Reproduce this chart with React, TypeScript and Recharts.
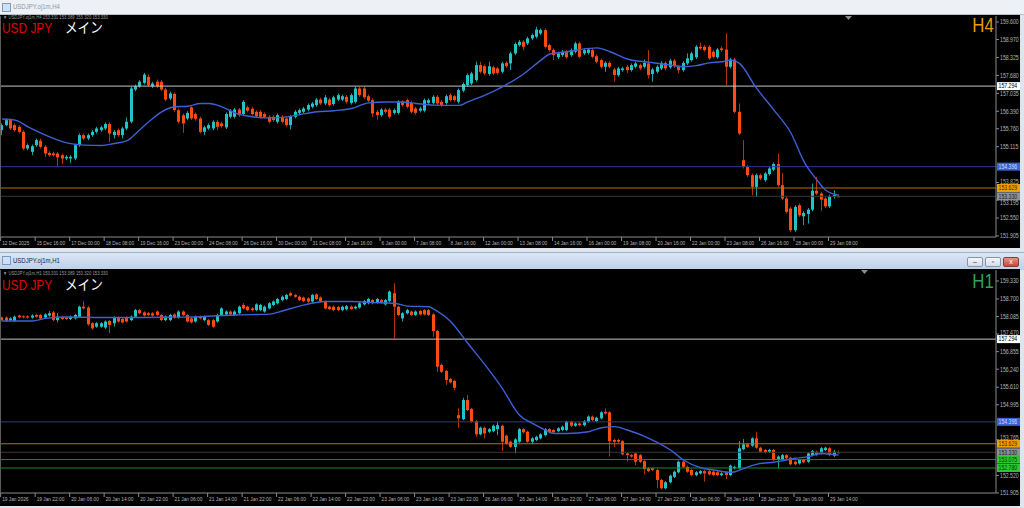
import { Bar, ComposedChart, Line, ReferenceLine, XAxis, YAxis } from "recharts";

// ---- USDJPY H4 (12 Dec 2025 - 29 Jan 2026) ----
const h4Open = [
  155.71, 155.89, 156.07, 155.89, 155.83, 155.65, 155.05, 154.93, 155.17, 155.33,
  155.11, 154.89, 154.87, 154.87, 154.81, 154.69, 154.69, 154.69, 155.17, 155.53,
  155.41, 155.53, 155.65, 155.71, 155.77, 155.93, 155.53, 155.71, 155.53, 155.77,
  156.01, 157.17, 157.29, 157.41, 157.63, 157.29, 157.45, 157.45, 157.17, 156.85,
  157.01, 156.43, 156.25, 156.13, 156.53, 156.29, 156.13, 155.65, 155.77, 155.77,
  156.01, 155.95, 155.81, 156.19, 156.19, 156.45, 156.29, 156.53, 156.48, 156.37,
  156.37, 156.29, 156.19, 156.19, 156.01, 156.19, 156.13, 155.89, 156.19, 156.33,
  156.37, 156.45, 156.55, 156.61, 156.81, 156.67, 156.81, 156.65, 156.81, 156.81,
  156.91, 156.69, 156.73, 157.21, 157.21, 156.93, 156.79, 156.37, 156.25, 156.45,
  156.45, 156.33, 156.33, 156.73, 156.79, 156.69, 156.49, 156.41, 156.41, 156.69,
  156.69, 156.91, 156.73, 156.69, 156.97, 156.93, 156.73, 157.13, 157.33, 157.39,
  157.51, 158.05, 158.01, 157.73, 157.97, 157.93, 157.81, 158.13, 158.11, 158.47,
  158.77, 158.89, 158.83, 159.01, 159.07, 159.19, 159.31, 158.77, 158.59, 158.33,
  158.41, 158.53, 158.41, 158.53, 158.83, 158.47, 158.49, 158.59, 158.37, 158.23,
  157.99, 158.13, 157.89, 157.69, 157.87, 157.99, 157.87, 157.99, 158.05, 157.99,
  158.11, 157.73, 157.81, 157.93, 158.13, 157.97, 158.21, 157.99, 157.87, 158.11,
  158.23, 158.33, 158.71, 158.71, 158.71, 158.53, 158.33, 158.65, 158.61, 157.99,
  158.25, 156.37, 154.63, 154.39, 154.09, 153.67, 154.09, 153.91, 154.13, 154.29,
  154.49, 153.73, 153.25, 152.89, 152.11, 153.01, 152.61, 152.69, 152.85, 153.53,
  153.43, 153.25, 152.97, 153.31, 153.331,
];
const h4High = [
  155.95, 156.13, 156.13, 155.95, 155.89, 155.71, 155.23, 155.19, 155.41, 155.41,
  155.17, 154.95, 154.93, 154.93, 154.87, 154.81, 154.81, 155.23, 155.59, 155.59,
  155.59, 155.71, 155.83, 155.87, 155.99, 155.99, 155.71, 155.77, 155.83, 156.17,
  157.27, 157.35, 157.51, 157.77, 157.71, 157.45, 157.53, 157.51, 157.23, 157.09,
  157.07, 156.49, 156.31, 156.39, 156.57, 156.35, 156.19, 155.87, 155.95, 156.07,
  156.07, 156.01, 156.35, 156.47, 156.51, 156.51, 156.79, 156.59, 156.55, 156.43,
  156.43, 156.35, 156.25, 156.25, 156.31, 156.25, 156.19, 156.25, 156.43, 156.49,
  156.55, 156.67, 156.73, 156.87, 156.87, 156.97, 156.87, 156.95, 157.03, 156.99,
  156.97, 157.03, 157.27, 157.27, 157.27, 156.99, 156.85, 156.43, 156.51, 156.51,
  156.51, 156.49, 156.79, 156.79, 156.85, 156.75, 156.55, 156.55, 156.85, 156.85,
  156.97, 156.97, 156.79, 156.99, 157.03, 156.99, 157.21, 157.43, 157.75, 157.81,
  158.17, 158.17, 158.07, 158.17, 158.03, 157.99, 158.17, 158.19, 158.53, 158.87,
  158.95, 158.95, 159.07, 159.19, 159.43, 159.37, 159.37, 158.83, 158.65, 158.53,
  158.59, 158.59, 158.65, 158.89, 158.89, 158.65, 158.67, 158.65, 158.43, 158.29,
  158.19, 158.19, 157.95, 157.99, 157.99, 158.05, 158.11, 158.17, 158.11, 158.25,
  158.59, 157.95, 158.05, 158.19, 158.19, 158.27, 158.27, 158.05, 158.19, 158.47,
  158.53, 158.77, 158.85, 158.77, 158.77, 158.59, 158.67, 158.73, 159.19, 158.31,
  158.31, 156.67, 155.35, 154.45, 154.15, 154.15, 154.15, 154.21, 154.39, 154.55,
  154.87, 154.17, 153.31, 152.95, 153.01, 153.07, 152.79, 152.91, 153.79, 154.03,
  153.49, 153.31, 153.39, 153.55, 153.389,
];
const h4Low = [
  155.53, 155.85, 155.71, 155.65, 155.59, 154.99, 154.99, 154.81, 155.11, 155.05,
  154.75, 154.75, 154.75, 154.43, 154.49, 154.63, 154.53, 154.63, 155.11, 155.35,
  155.35, 155.47, 155.59, 155.65, 155.71, 155.29, 155.41, 155.47, 155.41, 155.71,
  155.95, 157.11, 157.23, 157.35, 157.27, 157.23, 157.23, 157.11, 156.75, 156.79,
  156.37, 155.95, 155.61, 156.07, 156.07, 156.05, 155.59, 155.53, 155.71, 155.71,
  155.71, 155.79, 155.75, 156.13, 156.13, 156.19, 156.23, 156.35, 156.23, 156.15,
  156.13, 156.13, 155.95, 156.01, 155.95, 155.95, 155.83, 155.73, 156.13, 156.27,
  156.31, 156.39, 156.49, 156.55, 156.61, 156.61, 156.55, 156.59, 156.75, 156.75,
  156.67, 156.63, 156.67, 156.91, 156.83, 156.71, 156.19, 156.09, 156.19, 156.31,
  156.13, 156.27, 156.27, 156.55, 156.49, 156.31, 156.27, 156.35, 156.35, 156.63,
  156.63, 156.61, 156.55, 156.63, 156.73, 156.73, 156.67, 157.07, 157.27, 157.33,
  157.45, 157.75, 157.69, 157.67, 157.69, 157.71, 157.75, 157.95, 157.87, 158.41,
  158.71, 158.59, 158.77, 158.95, 159.01, 159.13, 158.65, 158.53, 158.23, 158.27,
  158.35, 158.27, 158.35, 158.47, 158.29, 158.41, 158.43, 158.29, 158.11, 157.93,
  157.81, 157.93, 157.45, 157.63, 157.81, 157.77, 157.81, 157.93, 157.87, 157.93,
  157.57, 157.45, 157.75, 157.87, 157.87, 157.91, 157.95, 157.75, 157.81, 158.05,
  158.17, 158.27, 158.59, 158.53, 158.23, 158.29, 158.27, 158.53, 157.33, 157.93,
  156.31, 155.53, 154.33, 154.03, 153.37, 153.31, 153.91, 153.85, 154.07, 154.23,
  153.67, 153.19, 152.71, 152.05, 152.05, 152.59, 152.29, 152.35, 152.79, 153.37,
  152.81, 152.91, 152.91, 153.25, 153.32,
];
const h4Close = [
  155.89, 156.07, 155.77, 155.71, 155.65, 155.05, 155.17, 155.13, 155.35, 155.11,
  154.87, 154.81, 154.81, 154.73, 154.69, 154.75, 154.75, 155.17, 155.53, 155.41,
  155.53, 155.65, 155.77, 155.81, 155.93, 155.59, 155.65, 155.53, 155.77, 156.01,
  157.21, 157.29, 157.45, 157.71, 157.33, 157.39, 157.29, 157.17, 156.81, 157.03,
  156.43, 156.01, 155.95, 156.33, 156.13, 156.12, 155.65, 155.81, 155.89, 156.01,
  155.83, 155.85, 156.29, 156.41, 156.45, 156.25, 156.73, 156.41, 156.29, 156.21,
  156.19, 156.19, 156.01, 156.07, 156.25, 156.01, 155.89, 156.19, 156.37, 156.43,
  156.49, 156.61, 156.67, 156.81, 156.67, 156.89, 156.61, 156.89, 156.97, 156.93,
  156.73, 156.97, 157.21, 156.97, 156.89, 156.77, 156.31, 156.25, 156.45, 156.37,
  156.19, 156.43, 156.73, 156.61, 156.55, 156.37, 156.33, 156.49, 156.79, 156.79,
  156.91, 156.67, 156.61, 156.93, 156.79, 156.79, 157.15, 157.37, 157.69, 157.75,
  158.05, 157.81, 157.75, 158.01, 157.75, 157.77, 158.11, 158.01, 158.47, 158.81,
  158.89, 158.71, 159.01, 159.13, 159.33, 159.31, 158.71, 158.59, 158.41, 158.47,
  158.53, 158.33, 158.59, 158.83, 158.35, 158.59, 158.61, 158.35, 158.17, 157.99,
  158.13, 157.99, 157.69, 157.93, 157.93, 157.87, 158.05, 158.11, 157.93, 158.13,
  157.69, 157.89, 157.99, 158.13, 157.93, 158.21, 158.01, 157.87, 158.13, 158.29,
  158.47, 158.71, 158.65, 158.59, 158.29, 158.35, 158.61, 158.59, 157.99, 158.25,
  156.37, 155.59, 154.39, 154.09, 153.67, 154.09, 153.97, 154.15, 154.33, 154.49,
  153.73, 153.25, 152.77, 152.11, 152.95, 152.65, 152.73, 152.85, 153.53, 153.43,
  153.21, 152.97, 153.33, 153.37, 153.33,
];
// moving average: bar index -> value
const h4MaIdx = [0, 3, 6, 11, 15, 19, 23, 26, 29, 31, 34, 37, 40, 43, 46, 48, 51, 54, 58, 62, 65, 69, 73, 77, 81, 85, 89, 93, 96, 100, 106, 108, 112, 116, 120, 125, 127, 131, 134, 138, 141, 145, 150, 155, 158, 161, 164, 167, 169, 171, 175, 179, 183, 186, 189, 191, 194];
const h4MaVal = [156.11, 156.07, 155.83, 155.47, 155.25, 155.17, 155.16, 155.23, 155.33, 155.59, 156.01, 156.37, 156.55, 156.57, 156.67, 156.67, 156.55, 156.33, 156.19, 156.15, 156.17, 156.27, 156.37, 156.41, 156.49, 156.69, 156.72, 156.72, 156.67, 156.61, 156.6, 156.73, 156.97, 157.27, 157.63, 158.23, 158.45, 158.53, 158.61, 158.67, 158.53, 158.27, 158.15, 158.05, 157.99, 158.03, 158.13, 158.17, 158.23, 158.11, 157.21, 156.43, 155.59, 154.57, 153.91, 153.55, 153.37];
const h4Times = ["12 Dec 2025", "15 Dec 16:00", "17 Dec 00:00", "18 Dec 08:00", "19 Dec 16:00", "23 Dec 00:00", "24 Dec 08:00", "26 Dec 16:00", "30 Dec 00:00", "31 Dec 08:00", "2 Jan 16:00", "6 Jan 00:00", "7 Jan 08:00", "8 Jan 16:00", "12 Jan 00:00", "13 Jan 08:00", "14 Jan 16:00", "16 Jan 00:00", "19 Jan 08:00", "20 Jan 16:00", "22 Jan 00:00", "23 Jan 08:00", "26 Jan 16:00", "28 Jan 00:00", "29 Jan 08:00"];
const h4PriceTicks = [159.6, 158.97, 158.325, 157.68, 157.035, 156.39, 155.76, 155.115, 153.825, 153.195, 152.55, 151.905];
const h4Levels = [157.294, 154.396, 153.629, 153.33];

// ---- USDJPY H1 (19 Jan 2026 - 29 Jan 2026) ----
const h1Open = [
  158.06, 158.05, 157.96, 157.93, 158.12, 158.09, 158.09, 158.05, 158.14, 158.14,
  158.05, 158.12, 158.23, 157.96, 158.07, 158.05, 158.0, 158.02, 158.08, 158.43,
  158.4, 157.85, 157.73, 157.73, 157.7, 157.93, 157.85, 158.05, 158.0, 158.05,
  157.96, 158.08, 158.31, 158.23, 158.2, 158.2, 158.26, 158.14, 157.96, 157.96,
  158.16, 158.05, 158.26, 158.14, 158.02, 157.91, 158.08, 157.96, 157.96, 157.96,
  157.91, 158.14, 158.16, 158.26, 158.14, 158.2, 158.49, 158.43, 158.37, 158.31,
  158.31, 158.26, 158.37, 158.49, 158.55, 158.66, 158.7, 158.9, 158.84, 158.78,
  158.75, 158.72, 158.61, 158.86, 158.75, 158.61, 158.43, 158.43, 158.42, 158.31,
  158.34, 158.43, 158.37, 158.4, 158.51, 158.55, 158.66, 158.58, 158.66, 158.51,
  158.63, 158.9, 158.43, 158.02, 158.2, 158.26, 158.14, 158.28, 158.31, 158.31,
  158.16, 157.58, 156.39, 156.18, 155.9, 155.83, 154.63, 154.49, 155.16, 154.85,
  154.42, 153.96, 154.19, 154.05, 154.07, 154.14, 154.26, 153.91, 153.7, 153.52,
  153.7, 154.14, 154.05, 153.7, 153.76, 153.82, 153.93, 154.14, 154.11, 154.07,
  154.11, 154.11, 154.4, 154.26, 154.34, 154.28, 154.4, 154.58, 154.42, 154.52,
  154.75, 154.73, 153.76, 153.76, 153.72, 153.29, 153.23, 153.29, 153.23, 153.02,
  152.77, 152.77, 152.71, 152.36, 152.07, 152.28, 152.47, 152.63, 153.0, 152.82,
  152.71, 152.53, 152.59, 152.67, 152.67, 152.65, 152.63, 152.53, 152.63, 152.53,
  152.77, 152.77, 153.44, 153.61, 153.56, 153.82, 153.49, 153.41, 153.35, 153.41,
  153.06, 153.06, 153.23, 153.14, 153.0, 152.94, 153.06, 153.0, 153.23, 153.35,
  153.29, 153.41, 153.47, 153.21, 153.331,
];
const h1High = [
  158.08, 158.09, 158.06, 158.12, 158.15, 158.13, 158.13, 158.16, 158.18, 158.18,
  158.2, 158.28, 158.28, 158.2, 158.11, 158.09, 158.12, 158.18, 158.47, 158.63,
  158.45, 157.89, 157.89, 157.89, 157.95, 157.97, 158.09, 158.09, 158.04, 158.09,
  158.12, 158.35, 158.35, 158.27, 158.24, 158.24, 158.3, 158.18, 158.12, 158.18,
  158.2, 158.3, 158.3, 158.18, 158.06, 158.12, 158.12, 158.12, 158.0, 158.0,
  158.18, 158.41, 158.3, 158.3, 158.3, 158.47, 158.55, 158.47, 158.41, 158.55,
  158.53, 158.47, 158.59, 158.65, 158.74, 158.82, 158.88, 158.96, 158.88, 158.82,
  158.79, 158.76, 158.88, 158.9, 158.79, 158.65, 158.47, 158.47, 158.46, 158.47,
  158.49, 158.47, 158.47, 158.59, 158.67, 158.74, 158.7, 158.74, 158.7, 158.7,
  159.0, 159.25, 158.47, 158.24, 158.35, 158.3, 158.3, 158.32, 158.35, 158.35,
  158.2, 157.62, 156.43, 156.22, 155.94, 155.87, 154.87, 155.24, 155.34, 154.89,
  154.46, 154.23, 154.23, 154.18, 154.3, 154.4, 154.3, 153.95, 153.74, 153.82,
  154.18, 154.18, 154.09, 153.86, 153.91, 154.0, 154.18, 154.18, 154.15, 154.21,
  154.27, 154.44, 154.44, 154.38, 154.38, 154.46, 154.62, 154.62, 154.58, 154.77,
  154.87, 154.77, 153.8, 153.8, 153.76, 153.33, 153.27, 153.33, 153.27, 153.06,
  152.81, 152.81, 152.75, 152.4, 152.32, 152.55, 152.69, 153.04, 153.04, 152.86,
  152.75, 152.67, 152.71, 152.71, 152.71, 152.69, 152.67, 152.63, 152.67, 152.9,
  152.86, 153.72, 153.79, 153.65, 153.86, 154.05, 153.53, 153.45, 153.45, 153.45,
  153.22, 153.27, 153.27, 153.18, 153.04, 153.1, 153.1, 153.33, 153.41, 153.39,
  153.51, 153.53, 153.51, 153.42, 153.389,
];
const h1Low = [
  157.91, 157.9, 157.92, 157.89, 158.02, 158.02, 158.01, 158.01, 158.04, 157.98,
  158.01, 158.08, 157.92, 157.88, 157.96, 157.96, 157.96, 157.98, 158.04, 158.33,
  157.76, 157.62, 157.69, 157.69, 157.65, 157.5, 157.73, 157.87, 157.84, 157.87,
  157.92, 158.04, 158.16, 158.08, 158.1, 158.08, 158.1, 157.92, 157.92, 157.92,
  158.01, 158.01, 158.1, 157.87, 157.84, 157.87, 157.98, 157.92, 157.75, 157.69,
  157.87, 158.1, 158.12, 158.12, 158.1, 158.16, 158.33, 158.27, 158.27, 158.27,
  158.27, 158.22, 158.33, 158.45, 158.51, 158.62, 158.66, 158.78, 158.74, 158.62,
  158.59, 158.57, 158.57, 158.66, 158.57, 158.33, 158.31, 158.27, 158.27, 158.27,
  158.3, 158.31, 158.33, 158.36, 158.47, 158.51, 158.51, 158.54, 158.54, 158.47,
  158.59, 157.32, 158.1, 157.91, 158.16, 158.1, 158.1, 158.12, 158.12, 158.1,
  157.38, 156.15, 156.1, 155.69, 155.74, 155.51, 154.19, 154.45, 154.77, 154.36,
  153.87, 153.92, 153.82, 154.01, 154.03, 153.93, 153.37, 153.6, 153.48, 153.29,
  153.66, 153.99, 153.66, 153.61, 153.72, 153.78, 153.89, 153.99, 153.99, 154.03,
  154.07, 154.07, 154.22, 154.22, 154.24, 154.24, 154.36, 154.42, 154.38, 154.48,
  154.65, 153.18, 153.52, 153.66, 153.22, 153.0, 153.14, 152.88, 152.96, 152.56,
  152.63, 152.67, 152.07, 152.03, 152.03, 152.24, 152.43, 152.59, 152.78, 152.61,
  152.49, 152.49, 152.55, 152.3, 152.52, 152.49, 152.49, 152.49, 152.39, 152.49,
  152.73, 152.73, 153.4, 153.48, 153.52, 153.45, 153.31, 153.29, 153.31, 153.02,
  152.77, 153.02, 153.08, 152.87, 152.87, 152.9, 152.94, 152.96, 153.19, 153.19,
  153.25, 153.37, 153.19, 153.17, 153.32,
];
const h1Close = [
  157.96, 157.94, 158.02, 158.08, 158.06, 158.06, 158.05, 158.12, 158.08, 158.02,
  158.16, 158.2, 157.96, 158.08, 158.0, 158.0, 158.08, 158.14, 158.43, 158.37,
  157.81, 157.67, 157.85, 157.85, 157.91, 157.79, 158.05, 157.91, 157.88, 157.91,
  158.08, 158.31, 158.2, 158.12, 158.14, 158.12, 158.14, 157.96, 158.08, 158.14,
  158.05, 158.26, 158.14, 157.91, 157.88, 158.08, 158.02, 158.08, 157.79, 157.73,
  158.14, 158.37, 158.26, 158.16, 158.26, 158.43, 158.37, 158.31, 158.31, 158.51,
  158.49, 158.43, 158.55, 158.61, 158.7, 158.78, 158.84, 158.82, 158.78, 158.66,
  158.63, 158.61, 158.84, 158.7, 158.61, 158.37, 158.35, 158.31, 158.31, 158.43,
  158.45, 158.35, 158.43, 158.55, 158.63, 158.7, 158.55, 158.7, 158.58, 158.66,
  158.96, 158.43, 158.14, 158.2, 158.31, 158.14, 158.26, 158.16, 158.16, 158.14,
  157.58, 156.33, 156.15, 155.86, 155.78, 155.59, 154.52, 155.16, 154.81, 154.4,
  153.96, 154.19, 153.99, 154.14, 154.26, 154.28, 153.7, 153.64, 153.52, 153.78,
  154.14, 154.03, 153.7, 153.82, 153.87, 153.96, 154.14, 154.03, 154.03, 154.17,
  154.23, 154.4, 154.26, 154.34, 154.28, 154.42, 154.58, 154.46, 154.54, 154.73,
  154.69, 153.72, 153.7, 153.7, 153.26, 153.23, 153.18, 153.0, 153.0, 152.74,
  152.67, 152.71, 152.36, 152.07, 152.28, 152.51, 152.65, 153.0, 152.82, 152.65,
  152.53, 152.63, 152.67, 152.59, 152.56, 152.53, 152.53, 152.59, 152.53, 152.86,
  152.82, 153.47, 153.61, 153.52, 153.82, 153.49, 153.35, 153.33, 153.41, 153.06,
  153.18, 153.23, 153.12, 152.91, 152.91, 153.06, 152.98, 153.29, 153.37, 153.23,
  153.47, 153.49, 153.23, 153.35, 153.33,
];
const h1MaIdx = [0, 7, 10, 15, 23, 31, 38, 46, 54, 62, 65, 69, 75, 81, 85, 91, 94, 99, 100, 104, 108, 112, 116, 120, 123, 126, 128, 131, 136, 139, 142, 145, 150, 155, 158, 162, 165, 169, 170, 173, 176, 179, 184, 187, 190, 194];
const h1MaVal = [157.93, 157.93, 158.02, 158.07, 158.05, 158.05, 158.06, 158.08, 158.14, 158.17, 158.28, 158.45, 158.61, 158.61, 158.58, 158.55, 158.45, 158.43, 158.35, 157.91, 157.15, 156.39, 155.57, 154.63, 154.34, 154.11, 153.99, 153.99, 154.05, 154.19, 154.23, 154.11, 153.82, 153.41, 153.06, 152.79, 152.71, 152.63, 152.65, 152.82, 152.94, 152.98, 153.12, 153.18, 153.29, 153.23];
const h1Times = ["19 Jan 2026", "19 Jan 22:00", "20 Jan 06:00", "20 Jan 14:00", "20 Jan 22:00", "21 Jan 06:00", "21 Jan 14:00", "21 Jan 22:00", "22 Jan 06:00", "22 Jan 14:00", "22 Jan 22:00", "23 Jan 06:00", "23 Jan 14:00", "23 Jan 22:00", "26 Jan 06:00", "26 Jan 14:00", "26 Jan 22:00", "27 Jan 06:00", "27 Jan 14:00", "27 Jan 22:00", "28 Jan 06:00", "28 Jan 14:00", "28 Jan 22:00", "29 Jan 06:00", "29 Jan 14:00"];
const h1PriceTicks = [159.33, 158.7, 158.085, 157.47, 156.855, 156.24, 155.61, 154.995, 153.765, 152.52, 151.905];
const h1Levels = [157.294, 154.396, 153.629, 153.33, 153.075, 152.78];

const quote = "153.331 153.389 153.320 153.330";

const SLOTS = 231;
const BULL = "#21c3c4";
const BULL_WICK = "#1b9fa2";
const BEAR = "#ff4a10";
const BEAR_WICK = "#b83208";
const MA = "#3d60d6";
const AXIS = "#8a8a8a";
const TXT = "#b4b4b4";
const FONT = "Liberation Sans, Arial, sans-serif";

const WHITE_LV = { line: "#c4c4c4", box: "#ffffff", text: "#000000" };
const BLUE_LV = { line: "#2a3b92", box: "#3b62d6", text: "#d0dcff" };
const ORANGE_LV = { line: "#b57200", box: "#eea000", text: "#4a2600" };
const GRAY_LV = { line: "#383838", box: "#8b9199", text: "#1c1c1c" };
const GREEN_LV = { line: "#1e8a2e", box: "#2fc52f", text: "#0a3a0a" };
const h4LevelStyles = [WHITE_LV, BLUE_LV, ORANGE_LV, GRAY_LV];
const h1LevelStyles = [WHITE_LV, BLUE_LV, ORANGE_LV, GRAY_LV, GREEN_LV, GREEN_LV];

function buildRows(open: number[], high: number[], low: number[], close: number[], maIdx: number[], maVal: number[]) {
  const rows: any[] = [];
  for (let i = 0; i < SLOTS; i++) {
    const has = i < open.length;
    const k = maIdx.indexOf(i);
    rows.push({
      i,
      o: has ? open[i] : null,
      h: has ? high[i] : null,
      l: has ? low[i] : null,
      c: has ? close[i] : null,
      range: has ? [low[i], high[i]] : null,
      ma: k >= 0 ? maVal[k] : null,
    });
  }
  return rows;
}

const h4Rows = buildRows(h4Open, h4High, h4Low, h4Close, h4MaIdx, h4MaVal);
const h1Rows = buildRows(h1Open, h1High, h1Low, h1Close, h1MaIdx, h1MaVal);

function Candle(props: any) {
  const { x, y, width, height, payload } = props;
  if (!payload || payload.o == null) return null;
  const { o, h, l, c } = payload;
  const top = Math.min(y, y + height);
  const span = Math.abs(height);
  const k = h > l ? span / (h - l) : 0;
  const py = (v: number) => top + (h - v) * k;
  const cx = Math.floor(x + width / 2) + 0.5;
  const up = c >= o;
  const bt = py(Math.max(o, c));
  const bb = py(Math.min(o, c));
  return (
    <g>
      <line x1={cx} x2={cx} y1={top} y2={top + span} stroke={up ? BULL_WICK : BEAR_WICK} strokeWidth={1} />
      <rect x={cx - 1.5} y={bt} width={3} height={Math.max(1, bb - bt)} fill={up ? BULL : BEAR} />
    </g>
  );
}

function TimeTick({ x, y, payload, times }: any) {
  const label = times[Math.round(payload.value / 8)];
  if (!label) return null;
  return (
    <g>
      <line x1={x - 1.5} x2={x - 1.5} y1={y} y2={y + 4} stroke={AXIS} />
      <text transform={`translate(${x},${y + 7.5}) scale(0.8,1)`} fontSize={6} fill={TXT} fontFamily={FONT}>
        {label}
      </text>
    </g>
  );
}

// price label; nudged off a level box when the two would collide
function PriceTick({ x, y, payload, levels, ppu }: any) {
  const v = Number(payload.value);
  let ty = y;
  for (const lv of levels) {
    const d = (lv - v) * ppu; // >0: box lies below in price, i.e. box is under? (pixels: box above when lv > v)
    if (Math.abs(d) < 6.5) ty = y + (d > 0 ? 6.5 - d : -6.5 - d);
  }
  return (
    <g>
      <line x1={x} x2={x + 3} y1={y} y2={y} stroke={AXIS} />
      <text transform={`translate(${x + 4},${ty + 2.3}) scale(0.8,1)`} fontSize={6.5} fill={TXT} fontFamily={FONT}>
        {v.toFixed(3)}
      </text>
    </g>
  );
}

function PriceBox({ viewBox, price, st }: any) {
  if (!viewBox) return null;
  const x = viewBox.x + viewBox.width;
  const y = viewBox.y;
  return (
    <g>
      <rect x={x + 1} y={y - 4} width={23} height={8} fill={st.box} />
      <text transform={`translate(${x + 2.5},${y + 2.3}) scale(0.8,1)`} fontSize={6.5} fill={st.text} fontFamily={FONT}>
        {price.toFixed(3)}
      </text>
    </g>
  );
}

function Panel({ rows, domain, ticks, times, levels, styles, height, axisH }: any) {
  const tickIdx = times.map((_: string, k: number) => k * 8);
  const plotH = height - 1 - axisH;
  const ppu = plotH / (domain[1] - domain[0]);
  return (
    <ComposedChart width={1020} height={height} data={rows} margin={{ top: 1, right: 0, bottom: 0, left: 0 }}>
      <XAxis
        dataKey="i"
        type="category"
        ticks={tickIdx}
        interval={0}
        height={axisH}
        tickSize={0}
        tickMargin={0}
        tickLine={false}
        axisLine={{ stroke: AXIS }}
        tick={(p: any) => <TimeTick {...p} times={times} />}
      />
      <YAxis
        orientation="right"
        type="number"
        width={24}
        domain={domain}
        allowDataOverflow
        ticks={ticks}
        interval={0}
        tickSize={0}
        tickMargin={0}
        tickLine={false}
        axisLine={{ stroke: AXIS }}
        tick={(p: any) => <PriceTick {...p} levels={levels} ppu={ppu} />}
      />
      {levels.map((v: number, k: number) => (
        <ReferenceLine key={k} y={v} stroke={styles[k].line} strokeWidth={1} label={<PriceBox price={v} st={styles[k]} />} />
      ))}
      <Bar dataKey="range" shape={Candle} isAnimationActive={false} />
      <Line dataKey="ma" type="monotone" stroke={MA} strokeWidth={1.4} dot={false} activeDot={false} connectNulls isAnimationActive={false} />
    </ComposedChart>
  );
}

const abs = (s: any) => ({ position: "absolute" as const, ...s });

// headTop / bigTop are offsets inside the chart box
function Overlay({ tf, tfColor, name, headTop, bigTop }: any) {
  return (
    <>
      <div style={abs({ left: 3, top: headTop, fontSize: 5, color: "#9c9c9c", whiteSpace: "nowrap", transform: "scale(0.85,1)", transformOrigin: "left top", lineHeight: 1 })}>
        ▼ {name}  {quote}
      </div>
      <div style={abs({ left: 2, top: bigTop, fontSize: 14.5, lineHeight: 1, color: "#e40000", whiteSpace: "nowrap", transform: "scale(0.82,1)", transformOrigin: "left top" })}>
        USD JPY
      </div>
      <div style={abs({ left: 65, top: bigTop, fontSize: 14.5, lineHeight: 1, color: "#ffffff", whiteSpace: "nowrap", fontFamily: "Liberation Sans, Noto Sans CJK JP, sans-serif", transform: "scale(0.87,1)", transformOrigin: "left top" })}>
        メイン
      </div>
      <div style={abs({ right: 26, top: headTop - 1, fontSize: 21, lineHeight: 1, color: tfColor, transform: "scale(0.8,1)", transformOrigin: "right top" })}>
        {tf}
      </div>
    </>
  );
}

const btn = (left: number, bg: string, border: string) =>
  abs({ left, top: 257, width: 16, height: 10, background: bg, border: `1px solid ${border}`, borderRadius: 2, boxSizing: "border-box", fontSize: 7, lineHeight: "8px", textAlign: "center", color: "#333" });

export default function App() {
  return (
    <div style={abs({ left: 0, top: 0, width: 1024, height: 508, background: "#dfe5ec", overflow: "hidden", fontFamily: FONT })}>
      {/* window title of the H4 chart */}
      <div style={abs({ left: 0, top: 0, width: 1024, height: 14, background: "#edf0f4", borderBottom: "1px solid #b8bfc8" })} />
      <div style={abs({ left: 2, top: 3, width: 7, height: 7, background: "#cfe0f2", border: "1px solid #7d9ac0" })} />
      <div style={abs({ left: 13, top: 3, fontSize: 7.5, lineHeight: 1, color: "#8e97a3", transform: "scale(0.8,1)", transformOrigin: "left top" })}>USDJPY.oj1m,H4</div>

      {/* H4 chart */}
      <div style={abs({ left: 0, top: 15, width: 1020, height: 233, background: "#000" })}>
        <Panel rows={h4Rows} domain={[151.866, 159.816]} ticks={h4PriceTicks} times={h4Times} levels={h4Levels} styles={h4LevelStyles} height={233} axisH={11} />
        <div style={abs({ left: 0, top: 1, width: 1, height: 221, background: "#5c5c5c" })} />
        <svg style={abs({ left: 845, top: 1 })} width={7} height={5}>
          <polygon points="0,0 7,0 3.5,4" fill="#8a8a8a" />
        </svg>
        <Overlay tf="H4" tfColor="#e59d00" name="USDJPY.oj1m,H4" headTop={0.2} bigTop={6.4} />
      </div>

      {/* window title of the H1 chart */}
      <div style={abs({ left: 0, top: 252, width: 1024, height: 17, background: "linear-gradient(#dbe6f3, #bcd0e9)", borderTop: "1px solid #9fb2cb" })} />
      <div style={abs({ left: 2, top: 256, width: 7, height: 7, background: "#cfe0f2", border: "1px solid #7d9ac0" })} />
      <div style={abs({ left: 13, top: 257, fontSize: 7.5, lineHeight: 1, color: "#1f2530", transform: "scale(0.8,1)", transformOrigin: "left top" })}>USDJPY.oj1m,H1</div>
      <div style={btn(967, "linear-gradient(#f4f7fb, #d3dce8)", "#8794a6")}>–</div>
      <div style={btn(985, "linear-gradient(#f4f7fb, #d3dce8)", "#8794a6")}>▫</div>
      <div style={{ ...btn(1003, "linear-gradient(#e69484, #c4493a)", "#8d3a2f"), color: "#fff" }}>x</div>

      {/* H1 chart */}
      <div style={abs({ left: 0, top: 269, width: 1020, height: 237, background: "#000" })}>
        <Panel rows={h1Rows} domain={[151.904, 159.715]} ticks={h1PriceTicks} times={h1Times} levels={h1Levels} styles={h1LevelStyles} height={237} axisH={13} />
        <div style={abs({ left: 0, top: 1, width: 1, height: 223, background: "#5c5c5c" })} />
        <svg style={abs({ left: 861, top: 1 })} width={7} height={5}>
          <polygon points="0,0 7,0 3.5,4" fill="#8a8a8a" />
        </svg>
        <Overlay tf="H1" tfColor="#2ea35c" name="USDJPY.oj1m,H1" headTop={2.3} bigTop={8.8} />
      </div>
    </div>
  );
}
